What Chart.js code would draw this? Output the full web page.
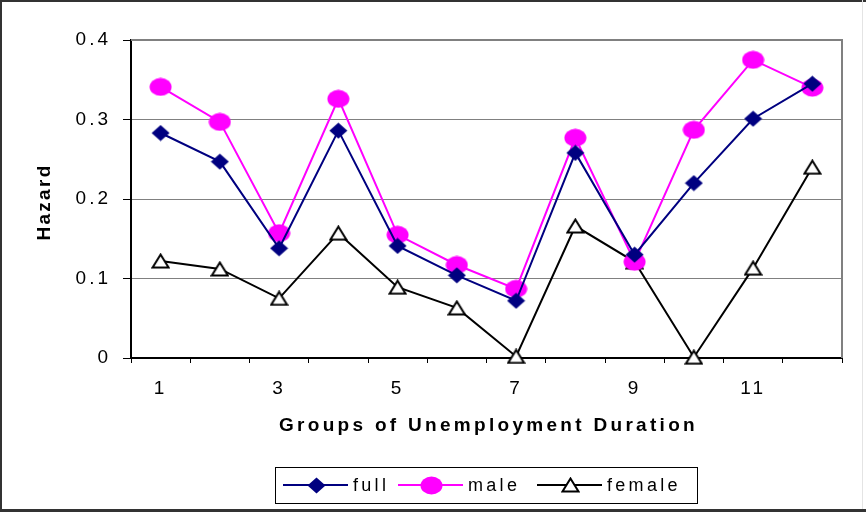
<!DOCTYPE html>
<html>
<head>
<meta charset="utf-8">
<script src="https://cdn.jsdelivr.net/npm/chart.js@4.4.1/dist/chart.umd.min.js"></script>
<style>
  html, body { margin: 0; padding: 0; background: #fff; }
  #wrap { width: 866px; height: 512px; }
</style>
</head>
<body>
<div id="wrap"><canvas id="hazardChart" width="866" height="512"></canvas></div>
<script>
// data
const groups = ['1', '2', '3', '4', '5', '6', '7', '8', '9', '10', '11', '12'];
const fullHazard = [0.283, 0.247, 0.138, 0.286, 0.141, 0.104, 0.072, 0.258, 0.130, 0.220, 0.301, 0.345];
const maleHazard = [0.341, 0.297, 0.157, 0.326, 0.155, 0.117, 0.087, 0.277, 0.121, 0.287, 0.375, 0.340];
const femaleHazard = [0.122, 0.112, 0.075, 0.157, 0.089, 0.063, 0.002, 0.166, 0.121, 0.001, 0.113, 0.240];
const seriesNames = ['full', 'male', 'female'];
const yTicks = [0, 0.1, 0.2, 0.3, 0.4];

const FONT = '"Liberation Sans", Arial, sans-serif';

// marker images (Excel style markers, a bit stretched)
function makeMarker(w, h, draw) {
    const c = document.createElement('canvas');
    c.width = w;
    c.height = h;
    draw(c.getContext('2d'), w, h);
    return c;
}
const diamond = makeMarker(19, 17, (ctx, w, h) => {
    ctx.fillStyle = '#000080';
    ctx.beginPath();
    ctx.moveTo(w / 2, 0.5);
    ctx.lineTo(w - 0.5, h / 2);
    ctx.lineTo(w / 2, h - 0.5);
    ctx.lineTo(0.5, h / 2);
    ctx.closePath();
    ctx.fill();
});
const ellipse = makeMarker(23, 19, (ctx, w, h) => {
    ctx.fillStyle = '#ff00ff';
    ctx.beginPath();
    ctx.ellipse(w / 2, h / 2, w / 2 - 0.5, h / 2 - 0.5, 0, 0, Math.PI * 2);
    ctx.fill();
});
const triangle = makeMarker(19, 16, (ctx, w, h) => {
    ctx.fillStyle = '#fff';
    ctx.strokeStyle = '#000';
    ctx.lineWidth = 2;
    ctx.beginPath();
    ctx.moveTo(w / 2, 1.5);
    ctx.lineTo(w - 1.5, h - 1.5);
    ctx.lineTo(1.5, h - 1.5);
    ctx.closePath();
    ctx.fill();
    ctx.stroke();
});

// frame, plot border, titles and legend drawn by hand
const excelLook = {
    id: 'excelLook',
    beforeDraw(chart) {
        const ctx = chart.ctx;
        ctx.save();
        ctx.fillStyle = '#fff';
        ctx.fillRect(0, 0, chart.width, chart.height);
        ctx.restore();
        ctx.letterSpacing = '3px';
    },
    afterDraw(chart) {
        const ctx = chart.ctx;
        const a = chart.chartArea;
        ctx.save();

        // plot area top/right border
        ctx.strokeStyle = '#808080';
        ctx.lineWidth = 2;
        ctx.beginPath();
        ctx.moveTo(a.left, a.top);
        ctx.lineTo(a.right, a.top);
        ctx.lineTo(a.right, a.bottom);
        ctx.stroke();

        // axis titles
        ctx.fillStyle = '#000';
        ctx.font = 'bold 19px ' + FONT;
        ctx.textAlign = 'center';
        ctx.textBaseline = 'middle';
        ctx.letterSpacing = '3.3px';
        ctx.fillText('Groups of Unemployment Duration', (a.left + a.right) / 2 + 2, 426);

        ctx.save();
        ctx.translate(45, (a.top + a.bottom) / 2 + 4);
        ctx.rotate(-Math.PI / 2);
        ctx.letterSpacing = '2.3px';
        ctx.fillText('Hazard', 1, 0);
        ctx.restore();

        // legend
        ctx.strokeStyle = '#000';
        ctx.lineWidth = 1;
        ctx.strokeRect(275.5, 467.5, 422, 36);
        const starts = [283, 398, 537];
        const ly = 485;
        ctx.font = '18px ' + FONT;
        ctx.textAlign = 'left';
        ctx.letterSpacing = '3.3px';
        chart.data.datasets.forEach((ds, i) => {
            const x = starts[i];
            ctx.strokeStyle = ds.borderColor;
            ctx.lineWidth = 2;
            ctx.beginPath();
            ctx.moveTo(x, ly);
            ctx.lineTo(x + 65, ly);
            ctx.stroke();
            const img = ds.pointStyle;
            ctx.drawImage(img, Math.round(x + 33 - img.width / 2), Math.round(ly - img.height / 2));
            ctx.fillStyle = '#000';
            ctx.fillText(ds.label, x + 70, ly + 1);
        });

        // outer frame
        ctx.fillStyle = '#333';
        ctx.fillRect(0, 0, chart.width, 2);
        ctx.fillRect(0, 0, 2, chart.height);
        ctx.fillRect(0, chart.height - 3, chart.width, 3);
        ctx.fillStyle = '#e4e4e4';
        ctx.fillRect(862, 0, 1, chart.height - 3);

        ctx.restore();
    }
};

const lineDs = (label, data, color, marker) => ({
    label: label,
    data: data,
    borderColor: color,
    backgroundColor: color,
    borderWidth: 2,
    tension: 0,
    pointStyle: marker,
    pointRadius: 8,
    pointHoverRadius: 8,
    clip: false
});

new Chart(document.getElementById('hazardChart'), {
    type: 'line',
    data: {
        labels: groups,
        datasets: [
            lineDs(seriesNames[0], fullHazard, '#000080', diamond),
            lineDs(seriesNames[1], maleHazard, '#ff00ff', ellipse),
            lineDs(seriesNames[2], femaleHazard, '#000000', triangle)
        ]
    },
    options: {
        responsive: false,
        animation: false,
        events: [],
        layout: { padding: { top: 40, right: 24, left: 0, bottom: 0 } },
        plugins: {
            legend: { display: false },
            tooltip: { enabled: false }
        },
        scales: {
            x: {
                offset: true,
                afterFit: (scale) => { scale.height = 154; },
                grid: {
                    offset: true,
                    drawOnChartArea: false,
                    tickLength: 5,
                    tickColor: '#000',
                    tickWidth: 1
                },
                border: { color: '#000', width: 2 },
                ticks: {
                    autoSkip: false,
                    maxRotation: 0,
                    padding: 14,
                    color: '#000',
                    font: { family: FONT, size: 19 },
                    callback: (v, i) => (i % 2 === 0 ? groups[i] : '')
                }
            },
            y: {
                min: yTicks[0],
                max: yTicks[yTicks.length - 1],
                afterFit: (scale) => { scale.width = 131; },
                afterBuildTicks: (scale) => { scale.ticks = yTicks.map(v => ({ value: v })); },
                grid: {
                    color: '#808080',
                    lineWidth: 1,
                    tickLength: 8,
                    tickColor: '#000'
                },
                border: { color: '#000', width: 2 },
                ticks: {
                    padding: 12,
                    color: '#000',
                    font: { family: FONT, size: 19 },
                    callback: (v) => (v === 0 ? '0' : v.toFixed(1))
                }
            }
        }
    },
    plugins: [excelLook]
});
</script>
</body>
</html>
